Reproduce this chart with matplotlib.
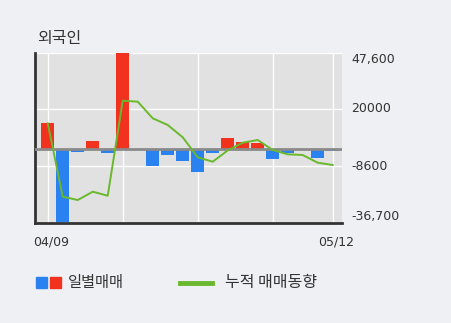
import matplotlib
matplotlib.use("Agg")
import matplotlib.pyplot as plt
from matplotlib.patches import Rectangle
from matplotlib.lines import Line2D

plt.rcParams['font.family'] = ['Noto Sans CJK KR', 'DejaVu Sans']

dates = ["04/09", "04/10", "04/13", "04/14", "04/16", "04/17", "04/20", "04/21",
         "04/22", "04/23", "04/24", "04/27", "04/28", "04/29", "05/04", "05/06",
         "05/07", "05/08", "05/11", "05/12"]
daily = [13000, -36000, -1340, 4120, -1840, 47600, 0, -8280, -2980, -5800,
         -11400, -1840, 5600, 3300, 2800, -5110, -1840, 0, -4300, -840]
cumulative = [12750, -23650, -25300, -21180, -23170, 23950, 23460, 15220, 11900, 5800,
              -4120, -6300, -700, 3120, 4460, -500, -2630, -2980, -6800, -7940]
yticks = [47600, 20000, -8600, -36700]
ytick_labels = ["47,600", "20000", "-8600", "-36,700"]
xlabel_idx = [0, 19]
vgrid_idx = [0, 5, 10, 15, 19]

RED = "#f0321e"
BLUE = "#2a82f0"
GREEN = "#6ab82e"
BG = "#eef0f4"
TXT = "#333333"
NUM = ["DejaVu Sans"]

fig = plt.figure(figsize=(4.51, 3.23), dpi=100, facecolor=BG)
ax = fig.add_axes([35 / 451, 100 / 323, 307 / 451, 170 / 323])
ax.set_facecolor("#e1e1e1")

x = list(range(len(daily)))
colors = [RED if v >= 0 else BLUE for v in daily]
ax.bar(x, daily, width=0.87, color=colors, zorder=3)
ax.axhline(0, color="#8a8a8a", lw=2, zorder=4)
ax.plot(x, cumulative, color=GREEN, lw=1.4, zorder=5)

for i in vgrid_idx:
    ax.axvline(i, color="white", lw=1, zorder=1)
for v in yticks:
    ax.axhline(v, color="white", lw=1, zorder=1)

ax.set_xlim(-0.85, 19.62)
ax.set_ylim(-36700, 47600)
ax.set_xticks([])
ax.set_yticks([])
for s in ("top", "right"):
    ax.spines[s].set_visible(False)
for s in ("left", "bottom"):
    ax.spines[s].set_color("#333333")
    ax.spines[s].set_linewidth(2)

# y labels on the right
vas = ["top", "center", "center", "bottom"]
for v, lab, va in zip(yticks, ytick_labels, vas):
    ax.text(1.03, v, lab, transform=ax.get_yaxis_transform(), ha="left", va=va,
            fontsize=9, color=TXT, family=NUM)

for i in xlabel_idx:
    ax.text(i + 0.2, -0.11, dates[i], transform=ax.get_xaxis_transform(), ha="center",
            va="center", fontsize=9, color=TXT, family=NUM)

fig.text(37 / 451, 1 - 38 / 323, "외국인", ha="left", va="center", fontsize=11.5, color=TXT)

# legend
fig.patches.append(Rectangle((36 / 451, 1 - 288 / 323), 11 / 451, 11 / 323,
                             transform=fig.transFigure, color=BLUE))
fig.patches.append(Rectangle((50 / 451, 1 - 288 / 323), 11 / 451, 11 / 323,
                             transform=fig.transFigure, color=RED))
fig.text(68 / 451, 1 - 283 / 323, "일별매매", ha="left", va="center", fontsize=11, color=TXT)
fig.lines.append(Line2D([180 / 451, 212 / 451], [1 - 283 / 323] * 2,
                        transform=fig.transFigure, color=GREEN, lw=3.5))
fig.text(225 / 451, 1 - 283 / 323, "누적 매매동향", ha="left", va="center", fontsize=11.5, color=TXT)

fig.savefig("out.png", dpi=100, facecolor=BG)
